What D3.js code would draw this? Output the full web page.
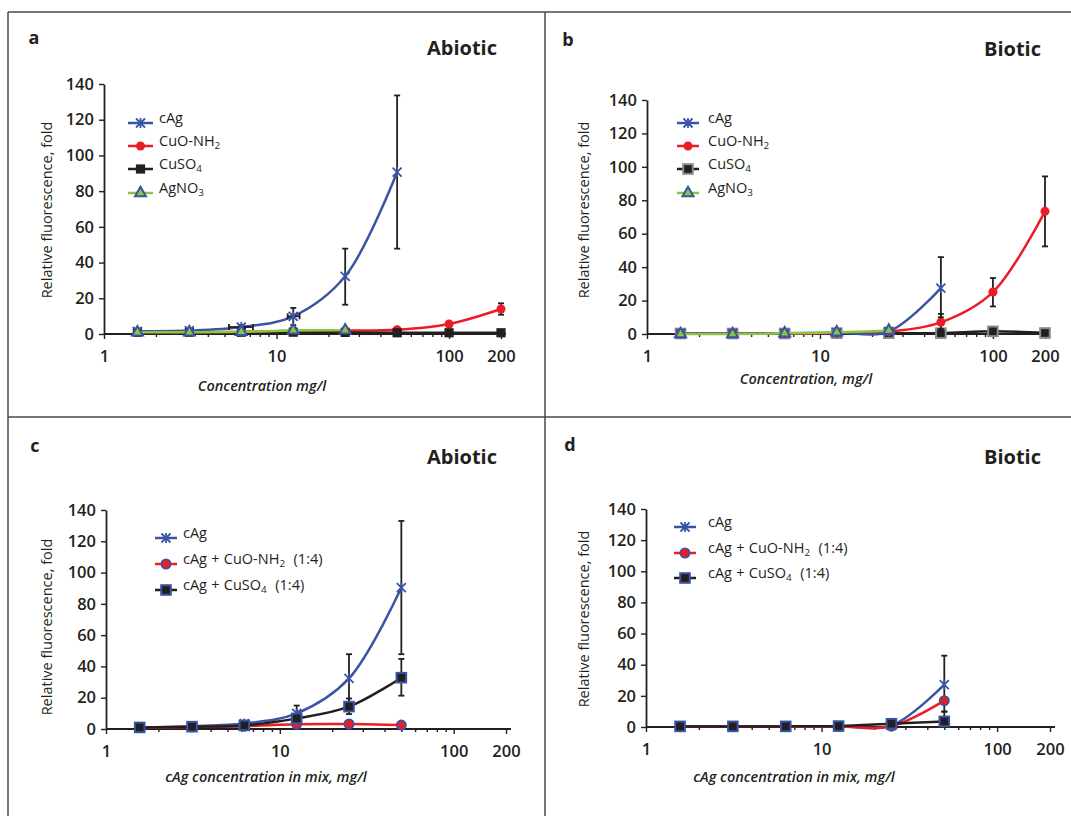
<!DOCTYPE html>
<html>
<head>
<meta charset="utf-8">
<script src="https://cdn.jsdelivr.net/npm/d3@7"></script>
<style>
body { margin: 0; background: #fff; }
svg { display: block; font-family: "Open Sans", sans-serif; }
</style>
</head>
<body>
<script>
// x values (mg/l) and axis ticks
const conc = [1.5625, 3.125, 6.25, 12.5, 25, 50, 100, 200]
const xTickValues = [1, 10, 100, 200]
const xMinorValues = [2, 3, 4, 5, 6, 7, 8, 9, 20, 30, 40, 50, 60, 70, 80, 90]
const yTickValues = [0, 20, 40, 60, 80, 100, 120, 140]

// a - abiotic, single compounds
const aCAg = [1.5, 1.9, 3.9, 9.9, 32.3, 90.7]
const aCAgErr = [null, null, [2.8, 5], [5, 14.6], [16.4, 47.8], [47.8, 133.6]]
const aCAgXErr = [null, null, [5.3, 7.3], [11.6, 13.6], null, null]
const aCuO = [1, 1, 1.2, 1.8, 1.9, 2.4, 5.6, 14]
const aCuOErr = [null, null, null, null, null, null, null, [10.8, 17.2]]
const aCuSO4 = [1, 1, 1, 1, 0.9, 0.7, 0.7, 0.7]
const aAgNO3 = [1, 1, 1.2, 2, 2.1]

// b - biotic, single compounds
const bCAg = [0.3, 0.3, 0.4, 0.8, 1.5, 27.5]
const bCAgErr = [null, null, null, null, null, [10, 46]]
const bCuO = [0.3, 0.3, 0.3, 0.6, 1.5, 7, 25.1, 73.4]
const bCuOErr = [null, null, null, null, null, [3, 12], [16.5, 33.5], [52.4, 94.3]]
const bCuSO4 = [0.3, 0.3, 0.3, 0.5, 0.5, 0.5, 1.6, 0.6]
const bAgNO3 = [0, 0, 0.4, 1, 2]

// c - abiotic, mixtures
const cCAg = [1, 1.8, 3.5, 10, 32.4, 90.4]
const cCAgErr = [null, null, null, [5, 15], [16.5, 47.8], [47.8, 133]]
const cMixCuO = [1, 1.3, 1.8, 3, 3.2, 2.5]
const cMixCuSO4 = [1, 1.5, 2.3, 6.8, 14.3, 32.8]
const cMixCuSO4Err = [null, null, null, null, [9.5, 19.5], [21.3, 44.8]]

// d - biotic, mixtures
const dCAg = [0.3, 0.3, 0.3, 0.5, 1, 27.2]
const dCAgErr = [null, null, null, null, null, [10, 45.8]]
const dMixCuO = [0.2, 0.2, 0.2, 0.3, 0.5, 16.9]
const dMixCuSO4 = [0.4, 0.4, 0.4, 0.6, 2.1, 3.6]
const dMixCuSO4Err = [null, null, null, null, null, [0, 9.8]]

const blue = "#3a54a4", red = "#ed1c24", black = "#231f20", green = "#8cc63f", grey = "#8a8a8a"

const panels = [
  {
    letter: "a", title: "Abiotic", xLabel: "Concentration mg/l",
    xr: [104, 501], yr: [334, 84], letterAt: [34, 38], titleAt: [497, 48],
    yLabelAt: [47, 210], xLabelAt: [262, 386],
    legend: { x0: 128, x1: 153, tx: 159, rows: [123, 146, 169, 193] },
    series: [
      { label: "CuO-NH_2", leg: 1, values: aCuO, err: aCuOErr, color: red, marker: "circle", fill: red, stroke: red },
      { label: "CuSO_4", leg: 2, values: aCuSO4, color: black, marker: "square", fill: black, stroke: black },
      { label: "cAg", leg: 0, values: aCAg, err: aCAgErr, xErr: aCAgXErr, color: blue, marker: "star", stroke: blue },
      { label: "AgNO_3", leg: 3, values: aAgNO3, color: green, marker: "triangle", fill: green, stroke: blue }
    ]
  },
  {
    letter: "b", title: "Biotic", xLabel: "Concentration, mg/l",
    xr: [647, 1045], yr: [334, 100], letterAt: [568, 40], titleAt: [1041, 49],
    yLabelAt: [584, 210], xLabelAt: [806, 379],
    legend: { x0: 677, x1: 699, tx: 708, rows: [123, 146, 169, 193] },
    series: [
      { label: "CuSO_4", leg: 2, values: bCuSO4, color: black, marker: "square", fill: black, stroke: grey },
      { label: "CuO-NH_2", leg: 1, values: bCuO, err: bCuOErr, color: red, marker: "circle", fill: red, stroke: red },
      { label: "cAg", leg: 0, values: bCAg, err: bCAgErr, color: blue, marker: "star", stroke: blue },
      { label: "AgNO_3", leg: 3, values: bAgNO3, color: green, marker: "triangle", fill: green, stroke: blue }
    ]
  },
  {
    letter: "c", title: "Abiotic", xLabel: "cAg concentration in mix, mg/l",
    xr: [106, 506], yr: [729, 510], letterAt: [35, 446], titleAt: [497, 457],
    yLabelAt: [47, 627], xLabelAt: [266, 777],
    legend: { x0: 155, x1: 177, tx: 183, rows: [538, 564, 590] },
    series: [
      { label: "cAg", leg: 0, values: cCAg, err: cCAgErr, color: blue, marker: "star", stroke: blue },
      { label: "cAg + CuO-NH_2  (1:4)", leg: 1, values: cMixCuO, color: red, marker: "circle", fill: red, stroke: blue },
      { label: "cAg + CuSO_4  (1:4)", leg: 2, values: cMixCuSO4, err: cMixCuSO4Err, color: black, marker: "square", fill: black, stroke: blue }
    ]
  },
  {
    letter: "d", title: "Biotic", xLabel: "cAg concentration in mix, mg/l",
    xr: [646, 1050], yr: [727, 509], letterAt: [570, 445], titleAt: [1041, 457],
    yLabelAt: [584, 619], xLabelAt: [794, 777],
    legend: { x0: 674, x1: 696, tx: 708, rows: [527, 553, 578] },
    series: [
      { label: "cAg", leg: 0, values: dCAg, err: dCAgErr, color: blue, marker: "star", stroke: blue },
      { label: "cAg + CuO-NH_2  (1:4)", leg: 1, values: dMixCuO, color: red, marker: "circle", fill: red, stroke: blue },
      { label: "cAg + CuSO_4  (1:4)", leg: 2, values: dMixCuSO4, err: dMixCuSO4Err, color: black, marker: "square", fill: black, stroke: blue }
    ]
  }
]

const width = 1071
const height = 816

const svg = d3.select("body").append("svg")
  .attr("width", width)
  .attr("height", height)

// frame lines between panels
const frame = svg.append("g").attr("stroke", "#4a4a4a").attr("stroke-width", 1.5)
frame.append("line").attr("x1", 8).attr("x2", width).attr("y1", 12).attr("y2", 12)
frame.append("line").attr("x1", 8).attr("x2", width).attr("y1", 417).attr("y2", 417)
frame.append("line").attr("x1", 8).attr("x2", 8).attr("y1", 12).attr("y2", height)
frame.append("line").attr("x1", 545).attr("x2", 545).attr("y1", 12).attr("y2", height)

// text with "_n" turned into subscripts
function richText(sel, str) {
  const parts = str.split(/_(\d)/)
  parts.forEach((p, i) => {
    if (!p) return
    if (i % 2 === 1) {
      sel.append("tspan").attr("font-size", "68%").attr("dy", 3).text(p)
    } else {
      sel.append("tspan").attr("dy", i > 0 ? -3 : 0).text(p)
    }
  })
}

function drawMarker(g, type, x, y, s) {
  if (type === "star") {
    const r = 4.5
    g.append("path")
      .attr("d", `M${x - r},${y - r}L${x + r},${y + r}M${x - r},${y + r}L${x + r},${y - r}M${x},${y - r - 0.5}L${x},${y + r + 0.5}`)
      .attr("stroke", s.stroke).attr("stroke-width", 1.8).attr("fill", "none")
  } else if (type === "circle") {
    const plain = s.stroke === s.fill
    g.append("circle").attr("cx", x).attr("cy", y)
      .attr("r", plain ? 4.5 : 4.6)
      .attr("fill", s.fill).attr("stroke", s.stroke).attr("stroke-width", plain ? 0 : 1.8)
  } else if (type === "square") {
    const plain = s.stroke === s.fill
    const h = plain ? 4.6 : 4.8
    g.append("rect").attr("x", x - h).attr("y", y - h).attr("width", 2 * h).attr("height", 2 * h)
      .attr("fill", s.fill).attr("stroke", s.stroke).attr("stroke-width", plain ? 0 : 2)
  } else if (type === "triangle") {
    g.append("path")
      .attr("d", d3.symbol(d3.symbolTriangle, 52)())
      .attr("transform", `translate(${x},${y})`)
      .attr("fill", s.fill).attr("stroke", s.stroke).attr("stroke-width", 2)
  }
}

panels.forEach(p => {
  const x = d3.scaleLog().domain([1, 200]).range(p.xr)
  const y = d3.scaleLinear().domain([0, 140]).range(p.yr)
  const g = svg.append("g")

  // axes
  g.append("g").attr("transform", `translate(${p.xr[0]},0)`)
    .call(d3.axisLeft(y).tickValues(yTickValues).tickSize(5).tickSizeOuter(0).tickPadding(5))
  const xAxis = g.append("g").attr("transform", `translate(0,${p.yr[0]})`)
    .call(d3.axisBottom(x).tickValues(xTickValues).tickFormat(d3.format("d")).tickSize(5).tickSizeOuter(0).tickPadding(11))
  g.append("g").attr("transform", `translate(0,${p.yr[0]})`)
    .call(d3.axisBottom(x).tickValues(xMinorValues).tickFormat("").tickSize(3).tickSizeOuter(0))
    .call(a => a.select(".domain").remove())
  g.append("line")
    .attr("x1", p.xr[0]).attr("x2", p.xr[1] + 5)
    .attr("y1", p.yr[0]).attr("y2", p.yr[0])
    .attr("stroke", black).attr("stroke-width", 1.8)
  g.selectAll(".tick line").attr("stroke", black).attr("stroke-width", 1.4)
  g.selectAll(".domain").attr("stroke", black).attr("stroke-width", 1.8)
  g.selectAll(".tick text")
    .attr("font-family", "Open Sans, sans-serif")
    .attr("font-size", 16.5).attr("font-weight", 600).attr("fill", black)
  xAxis.select(".domain").remove()

  // series
  const line = d3.line()
    .x((d, i) => x(conc[i]))
    .y(d => y(d))
    .curve(d3.curveCatmullRom.alpha(0.5))

  p.series.forEach(s => {
    const sg = g.append("g")
    sg.append("path")
      .attr("d", line(s.values))
      .attr("fill", "none")
      .attr("stroke", s.color)
      .attr("stroke-width", 2.5)

    if (s.err) {
      s.err.forEach((e, i) => {
        if (!e) return
        const cx = x(conc[i])
        const eg = sg.append("g").attr("stroke", black).attr("stroke-width", 1.8)
        eg.append("line").attr("x1", cx).attr("x2", cx).attr("y1", y(e[0])).attr("y2", y(e[1]))
        eg.append("line").attr("x1", cx - 3).attr("x2", cx + 3).attr("y1", y(e[0])).attr("y2", y(e[0]))
        eg.append("line").attr("x1", cx - 3).attr("x2", cx + 3).attr("y1", y(e[1])).attr("y2", y(e[1]))
      })
    }
    if (s.xErr) {
      s.xErr.forEach((e, i) => {
        if (!e) return
        const cy = y(s.values[i])
        const eg = sg.append("g").attr("stroke", black).attr("stroke-width", 1.8)
        eg.append("line").attr("x1", x(e[0])).attr("x2", x(e[1])).attr("y1", cy).attr("y2", cy)
        eg.append("line").attr("x1", x(e[0])).attr("x2", x(e[0])).attr("y1", cy - 3).attr("y2", cy + 3)
        eg.append("line").attr("x1", x(e[1])).attr("x2", x(e[1])).attr("y1", cy - 3).attr("y2", cy + 3)
      })
    }
    s.values.forEach((v, i) => drawMarker(sg, s.marker, x(conc[i]), y(v), s))
  })

  // legend
  const L = p.legend
  p.series.forEach(s => {
    const ly = L.rows[s.leg]
    const lg = g.append("g")
    lg.append("line").attr("x1", L.x0).attr("x2", L.x1).attr("y1", ly).attr("y2", ly)
      .attr("stroke", s.color).attr("stroke-width", 2.5)
    drawMarker(lg, s.marker, (L.x0 + L.x1) / 2, ly, s)
    const t = lg.append("text")
      .attr("x", L.tx).attr("y", ly).attr("dy", "0.35em")
      .attr("font-size", 14.5).attr("fill", black)
      .style("white-space", "pre")
      .style("word-spacing", "0.5px")
    richText(t, s.label)
  })

  // labels
  g.append("text")
    .attr("x", p.letterAt[0]).attr("y", p.letterAt[1]).attr("dy", "0.35em")
    .attr("text-anchor", "middle")
    .attr("font-size", 18).attr("font-weight", 700).attr("fill", black)
    .text(p.letter)
  g.append("text")
    .attr("x", p.titleAt[0]).attr("y", p.titleAt[1]).attr("dy", "0.35em")
    .attr("text-anchor", "end")
    .attr("font-size", 20).attr("font-weight", 700).attr("fill", black)
    .text(p.title)
  g.append("text")
    .attr("transform", `translate(${p.yLabelAt[0]},${p.yLabelAt[1]}) rotate(-90)`)
    .attr("dy", "0.35em")
    .attr("text-anchor", "middle")
    .attr("font-size", 14.5).attr("font-weight", 500).attr("fill", black)
    .text("Relative fluorescence, fold")
  g.append("text")
    .attr("x", p.xLabelAt[0]).attr("y", p.xLabelAt[1]).attr("dy", "0.35em")
    .attr("text-anchor", "middle")
    .attr("font-size", 14.5).attr("font-weight", 600).attr("font-style", "italic").attr("fill", black)
    .text(p.xLabel)
})
</script>
</body>
</html>
